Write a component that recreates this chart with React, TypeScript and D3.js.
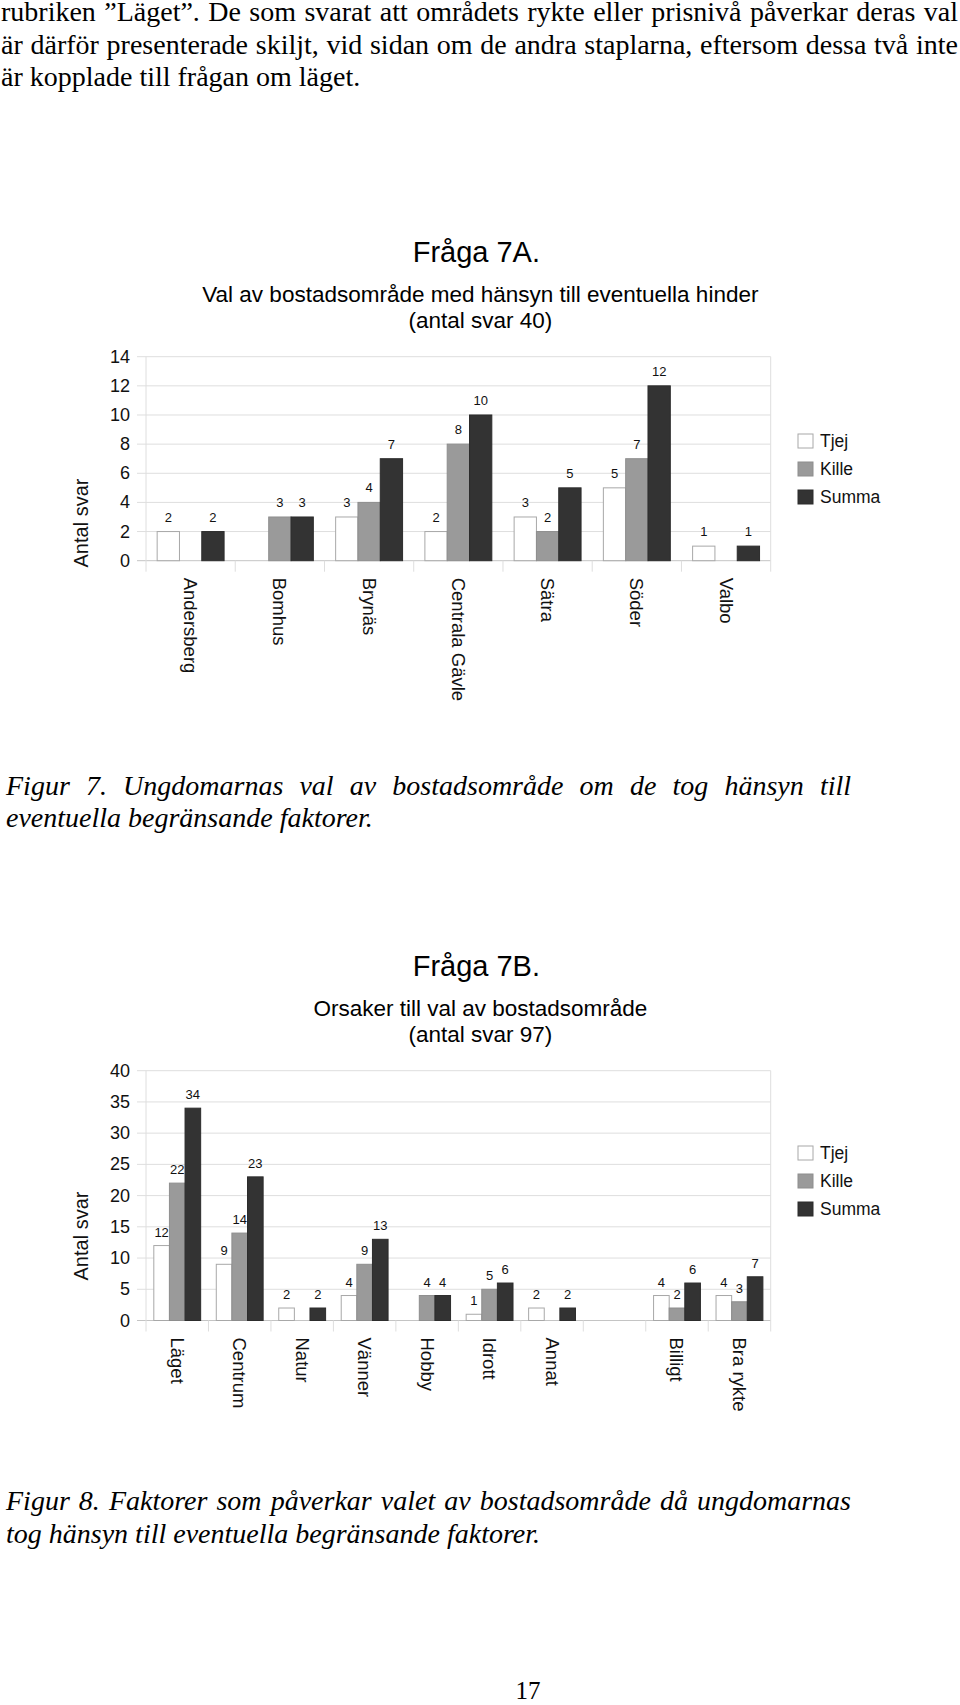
import React, { useLayoutEffect, useRef } from 'react';
import * as d3 from 'd3';

// ---------- data ----------
const areasA = ['Andersberg', 'Bomhus', 'Brynäs', 'Centrala Gävle', 'Sätra', 'Söder', 'Valbo'];
const tjejA: (number | null)[] = [2, null, 3, 2, 3, 5, 1];
const killeA: (number | null)[] = [null, 3, 4, 8, 2, 7, null];
const summaA: (number | null)[] = [2, 3, 7, 10, 5, 12, 1];
const ticksA = [0, 2, 4, 6, 8, 10, 12, 14];

const reasonsB = ['Läget', 'Centrum', 'Natur', 'Vänner', 'Hobby', 'Idrott', 'Annat', '', 'Billigt', 'Bra rykte'];
const tjejB: (number | null)[] = [12, 9, 2, 4, null, 1, 2, null, 4, 4];
const killeB: (number | null)[] = [22, 14, null, 9, 4, 5, null, null, 2, 3];
const summaB: (number | null)[] = [34, 23, 2, 13, 4, 6, 2, null, 6, 7];
const ticksB = [0, 5, 10, 15, 20, 25, 30, 35, 40];

const seriesNames = ['Tjej', 'Kille', 'Summa'];

const paragraphLines = [
  'rubriken ”Läget”. De som svarat att områdets rykte eller prisnivå påverkar deras val',
  'är därför presenterade skiljt, vid sidan om de andra staplarna, eftersom dessa två inte',
  'är kopplade till frågan om läget.',
];
const caption7 = [
  'Figur 7. Ungdomarnas val av bostadsområde om de tog hänsyn till',
  'eventuella begränsande faktorer.',
];
const caption8 = [
  'Figur 8. Faktorer som påverkar valet av bostadsområde då ungdomarnas',
  'tog hänsyn till eventuella begränsande faktorer.',
];

// ---------- styles ----------
const SANS = '"Liberation Sans", Arial, Helvetica, sans-serif';
const SERIF = '"Liberation Serif", "Times New Roman", Times, serif';
const FILLS = ['#ffffff', '#9a9a9a', '#333333'];
const STROKES = ['#a8a8a8', '#8e8e8e', '#2c2c2c'];
const GRID = '#dedede';
const BODY = 28;

function JustifiedLine(props: {
  x: number; y: number; width?: number; text: string; size: number; italic?: boolean;
}) {
  const ref = useRef<SVGTextElement>(null);
  useLayoutEffect(() => {
    const el = ref.current;
    if (!el || !props.width) return;
    el.style.wordSpacing = '0px';
    const w = el.getComputedTextLength();
    const spaces = (props.text.match(/ /g) || []).length;
    if (spaces > 0) el.style.wordSpacing = `${(props.width - w) / spaces}px`;
  }, [props.text, props.width]);
  return (
    <text
      ref={ref}
      x={props.x}
      y={props.y}
      fontFamily={SERIF}
      fontSize={props.size}
      fontStyle={props.italic ? 'italic' : 'normal'}
      fill="#000"
    >
      {props.text}
    </text>
  );
}

type ChartProps = {
  plotTop: number;
  plotBottom: number;
  title: string;
  subtitle: string[];
  categories: string[];
  series: (number | null)[][];
  ticks: number[];
  yMax: number;
  axisTitleY: number;
  legendTop: number;
  labelGap: number;
};

function BarChart(p: ChartProps) {
  const left = 146;
  const right = 770.7;
  const y = d3.scaleLinear().domain([0, p.yMax]).range([p.plotBottom, p.plotTop]);
  const x0 = d3
    .scaleBand<number>()
    .domain(d3.range(p.categories.length))
    .range([left, right])
    .paddingInner(0)
    .paddingOuter(0);
  const x1 = d3
    .scaleBand<number>()
    .domain(d3.range(p.series.length))
    .range([0, x0.bandwidth()])
    .paddingInner(0)
    .paddingOuter(0.5);
  const cx = (right + left) / 2 + 20;

  return (
    <g>
      {/* titles */}
      <text x={cx - 2} y={p.plotTop - 95} textAnchor="middle" fontFamily={SANS} fontSize={29}>
        {p.title}
      </text>
      {p.subtitle.map((s, i) => (
        <text
          key={i}
          x={cx + 2}
          y={p.plotTop - 55 + i * 26.5}
          textAnchor="middle"
          fontFamily={SANS}
          fontSize={22.5}
        >
          {s}
        </text>
      ))}

      {/* gridlines + y ticks */}
      {p.ticks.map((t) => (
        <g key={t}>
          <line x1={left - 9} x2={right} y1={y(t)} y2={y(t)} stroke={t === 0 ? '#c4c4c4' : GRID} strokeWidth={1} />
          <text
            x={130}
            y={y(t)}
            textAnchor="end"
            dominantBaseline="central"
            fontFamily={SANS}
            fontSize={18}
            fill="#111"
          >
            {t}
          </text>
        </g>
      ))}
      {/* frame verticals */}
      <line x1={left} x2={left} y1={p.plotTop} y2={p.plotBottom + 11} stroke={GRID} />
      <line x1={right} x2={right} y1={p.plotTop} y2={p.plotBottom + 11} stroke={GRID} />
      {d3.range(1, p.categories.length).map((i) => (
        <line
          key={i}
          x1={x0(i)!}
          x2={x0(i)!}
          y1={p.plotBottom}
          y2={p.plotBottom + 11}
          stroke={GRID}
        />
      ))}

      {/* bars */}
      {p.categories.map((c, ci) => (
        <g key={ci}>
          {p.series.map((s, si) => {
            const v = s[ci];
            if (v == null) return null;
            const bx = x0(ci)! + x1(si)!;
            const bw = x1.bandwidth();
            return (
              <g key={si}>
                <rect
                  x={bx}
                  y={y(v)}
                  width={bw}
                  height={y(0) - y(v)}
                  fill={FILLS[si]}
                  stroke={STROKES[si]}
                  strokeWidth={1}
                />
                <text
                  x={bx + bw / 2}
                  y={y(v) - p.labelGap}
                  textAnchor="middle"
                  fontFamily={SANS}
                  fontSize={13}
                  fill="#111"
                >
                  {v}
                </text>
              </g>
            );
          })}
          {c ? (
            <text
              transform={`translate(${x0(ci)! + x0.bandwidth() / 2},${p.plotBottom + 17}) rotate(90)`}
              dominantBaseline="central"
              fontFamily={SANS}
              fontSize={18.5}
              fill="#111"
            >
              {c}
            </text>
          ) : null}
        </g>
      ))}

      {/* y axis title */}
      <text
        transform={`translate(81,${p.axisTitleY}) rotate(-90)`}
        textAnchor="middle"
        dominantBaseline="central"
        fontFamily={SANS}
        fontSize={20}
        fill="#111"
      >
        Antal svar
      </text>

      {/* legend */}
      {seriesNames.map((n, i) => (
        <g key={n} transform={`translate(798,${p.legendTop + i * 28})`}>
          <rect x={0} y={0} width={15} height={14} fill={FILLS[i]} stroke={STROKES[i]} />
          <text x={22} y={7} dominantBaseline="central" fontFamily={SANS} fontSize={17.5} fill="#111">
            {n}
          </text>
        </g>
      ))}
    </g>
  );
}

export default function App() {
  return (
    <svg
      width={960}
      height={1705}
      style={{ position: 'absolute', left: 0, top: 0, background: '#fff' }}
    >
      <rect x={0} y={0} width={960} height={1705} fill="#fff" />
      {paragraphLines.map((t, i) => (
        <JustifiedLine
          key={i}
          x={1}
          y={21 + i * 32.5}
          width={i < 2 ? 957 : undefined}
          text={t}
          size={BODY}
        />
      ))}

      <BarChart
        plotTop={356.7}
        plotBottom={560.7}
        title="Fråga 7A."
        subtitle={['Val av bostadsområde med hänsyn till eventuella hinder', '(antal svar 40)']}
        categories={areasA}
        series={[tjejA, killeA, summaA]}
        ticks={ticksA}
        yMax={14}
        axisTitleY={523}
        legendTop={434}
        labelGap={10}
      />

      {caption7.map((t, i) => (
        <JustifiedLine key={i} x={6} y={795 + i * 32} width={i === 0 ? 845 : undefined} text={t} size={BODY} italic />
      ))}

      <BarChart
        plotTop={1070.7}
        plotBottom={1320.5}
        title="Fråga 7B."
        subtitle={['Orsaker till val av bostadsområde', '(antal svar 97)']}
        categories={reasonsB}
        series={[tjejB, killeB, summaB]}
        ticks={ticksB}
        yMax={40}
        axisTitleY={1236}
        legendTop={1146}
        labelGap={9}
      />

      {caption8.map((t, i) => (
        <JustifiedLine key={i} x={6} y={1510 + i * 33} width={i === 0 ? 845 : undefined} text={t} size={BODY} italic />
      ))}

      <text x={528} y={1699} textAnchor="middle" fontFamily={SERIF} fontSize={25}>
        17
      </text>
    </svg>
  );
}
